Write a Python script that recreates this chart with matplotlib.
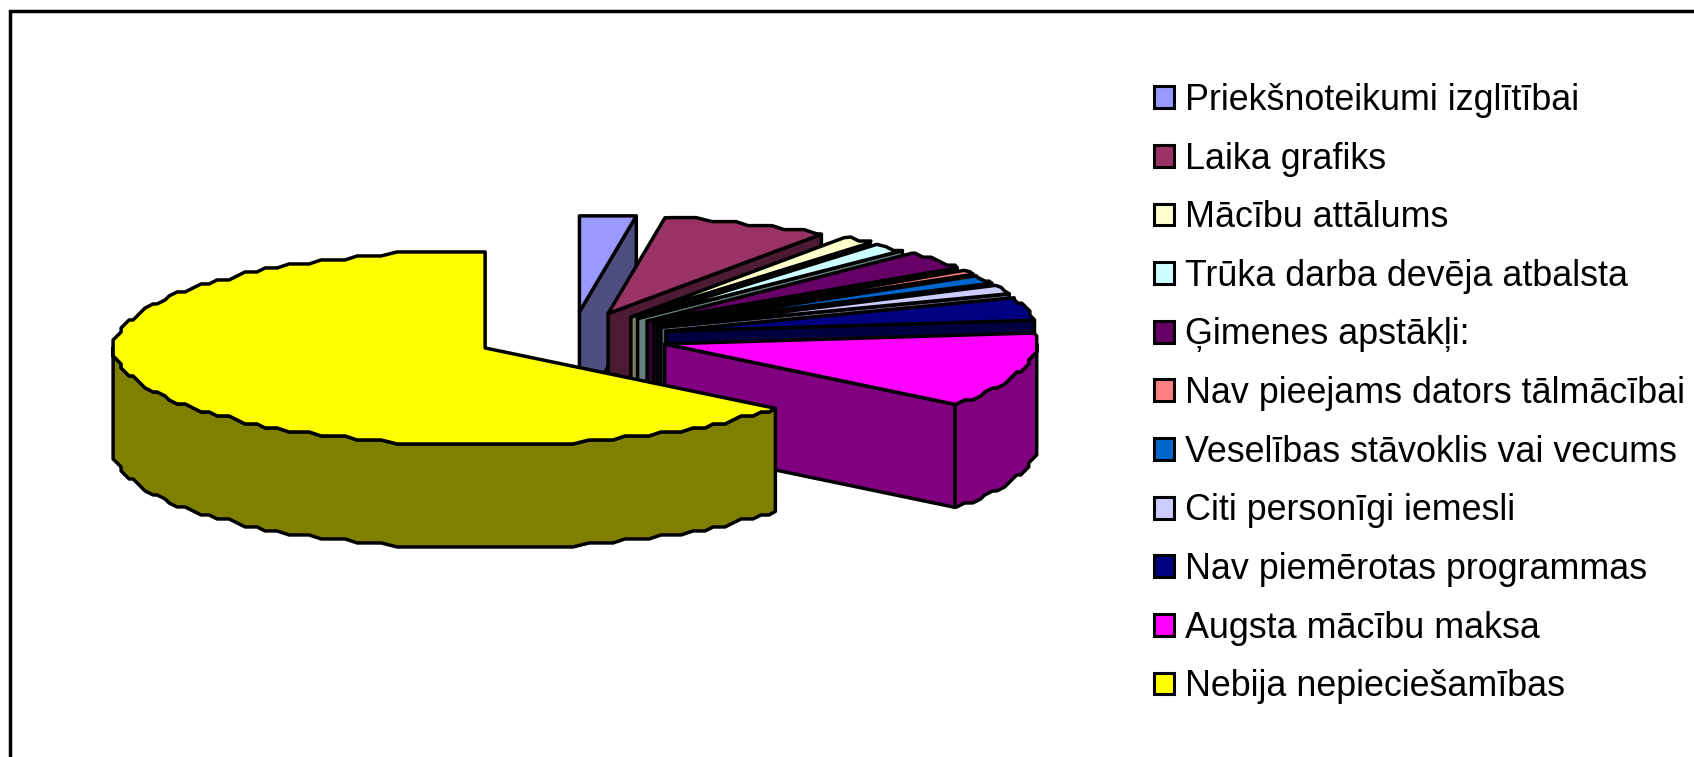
import matplotlib
matplotlib.use('Agg')
import matplotlib.pyplot as plt
from matplotlib.patches import Patch, Polygon, Rectangle
import numpy as np

plt.rcParams['font.family'] = ['Liberation Sans', 'DejaVu Sans']

labels = ['Priekšnoteikumi izglītībai', 'Laika grafiks', 'Mācību attālums',
          'Trūka darba devēja atbalsta', 'Ģimenes apstākļi:',
          'Nav pieejams dators tālmācībai', 'Veselības stāvoklis vai vecums',
          'Citi personīgi iemesli', 'Nav piemērotas programmas',
          'Augsta mācību maksa', 'Nebija nepieciešamības']
values = [2.45, 7.3, 1.4, 1.5, 3.1, 0.75, 1.4, 1.5, 3.8, 12.5, 64.3]
top_colors = ['#9999FF', '#993366', '#FFFFCC', '#CCFFFF', '#660066', '#FF8080',
              '#0066CC', '#CCCCFF', '#000080', '#FF00FF', '#FFFF00']
side_colors = ['#4D4D80', '#4D1A33', '#808066', '#668080', '#330033', '#804040',
               '#003366', '#666680', '#000040', '#800080', '#808000']

W, H = 1694, 757
CX, CY = 572, 337
RX, RY = 371, 97
DEPTH = 103
EXPLODE = 0.26
LW = 2.5
STEP = 2.0


def rim(cx, cy, a, b):
    # a, b in degrees clockwise from the top, coarse steps like the original
    grid = np.arange(np.ceil(a / STEP), np.floor(b / STEP) + 1) * STEP
    deg = np.unique(np.r_[a, grid, b])
    t = np.radians(deg)
    x = cx + RX * np.sin(t)
    y = cy - RY * np.cos(t)
    on_grid = np.isclose(deg % STEP, 0)
    x[on_grid] = cx + np.round((x[on_grid] - cx) / 4) * 4
    y[on_grid] = cy + np.round((y[on_grid] - cy) / 4) * 4
    return x, y


def add_poly(ax, x, y, color):
    ax.add_patch(Polygon(np.column_stack([x, y]), closed=True, facecolor=color,
                         edgecolor='black', lw=LW, joinstyle='round'))


def draw_slice(ax, a, b, top, side):
    mid = np.radians((a + b) / 2)
    cx = CX + EXPLODE * RX * np.sin(mid)
    cy = CY - EXPLODE * RY * np.cos(mid)

    # cut face at the clockwise end of the slice
    if b < 180:
        ex = cx + RX * np.sin(np.radians(b))
        ey = cy - RY * np.cos(np.radians(b))
        add_poly(ax, [cx, ex, ex, cx], [cy, ey, ey + DEPTH, cy + DEPTH], side)

    # outer wall, only the front half shows
    lo, hi = max(a, 90), min(b, 270)
    if hi > lo:
        x, y = rim(cx, cy, lo, hi)
        add_poly(ax, np.r_[x, x[::-1]], np.r_[y, y[::-1] + DEPTH], side)

    x, y = rim(cx, cy, a, b)
    add_poly(ax, np.r_[cx, x], np.r_[cy, y], top)


def main():
    fig = plt.figure(figsize=(W / 100, H / 100), dpi=100)
    ax = fig.add_axes([0, 0, 1, 1])
    ax.set_xlim(0, W)
    ax.set_ylim(H, 0)
    ax.axis('off')

    ax.add_patch(Rectangle((10, 11), W + 50, H + 50, facecolor='white',
                           edgecolor='black', lw=LW))

    edges = np.r_[0, np.cumsum(values)] / np.sum(values) * 360
    for i in range(len(values)):
        draw_slice(ax, edges[i], edges[i + 1], top_colors[i], side_colors[i])

    handles = [Patch(facecolor=c, edgecolor='black', lw=2.2) for c in top_colors]
    ax.legend(handles, labels, loc='upper left', bbox_to_anchor=(1154 / W, 1 - 83 / H),
              bbox_transform=fig.transFigure, frameon=False, fontsize=25.8,
              borderpad=0, borderaxespad=0, handlelength=0.56, handleheight=0.56,
              handletextpad=0.31, labelspacing=0.659)

    fig.savefig('out.png', dpi=100)


if __name__ == "__main__":
    main()
